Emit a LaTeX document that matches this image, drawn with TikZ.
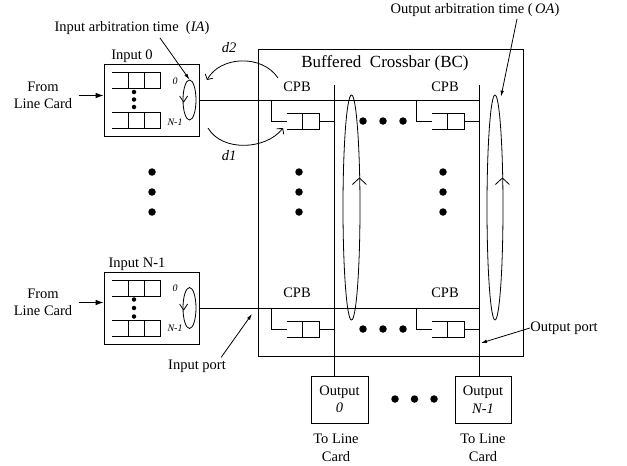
\documentclass[tikz,border=0pt]{standalone}
\usepackage{fontspec}
\setmainfont{Liberation Serif}
\usetikzlibrary{shapes.geometric,arrows.meta,calc}
\begin{document}
\begin{tikzpicture}[x=1pt,y=-1pt,line width=0.8pt,
  font=\fontsize{14.5}{17.5}\selectfont,
  qbox/.style={draw,inner sep=0pt},
  lbl/.style={inner sep=0pt,align=center},
  qlbl/.style={inner sep=0pt,font=\fontsize{10}{12}\selectfont\itshape},
  bigdot/.style={circle,fill,inner sep=0pt,minimum size=7.5pt},
  smalldot/.style={circle,fill,inner sep=0pt,minimum size=4.5pt},
  arb/.style={draw,ellipse,inner sep=0pt},
  fat/.style={-{Latex[length=8pt,width=5.5pt]}},
  thin/.style={-{Latex[length=6pt,width=3.5pt]}},
  barb/.style={-{Straight Barb[length=4pt,width=9pt]}}]
\useasboundingbox (0,0) rectangle (627,466);

\node[qbox,minimum width=95pt,minimum height=72pt] (in0) at (151.5,100) {};
\node[qbox,minimum width=95pt,minimum height=72pt] (inN) at (151.5,308) {};
\node[lbl] (in0lbl) at (132,56) {Input 0};
\node[lbl] (inNlbl) at (137,264) {Input N-1};

\foreach \q in {72,112,280,320} {
  \draw (112,\q) -- (160,\q) -- (160,\q+16) -- (112,\q+16);
  \draw (128,\q) -- (128,\q+16);
  \draw (144,\q) -- (144,\q+16);
}
\node[smalldot] (s1) at (134,92) {};
\node[smalldot] (s2) at (134,99.5) {};
\node[smalldot] (s3) at (134,107) {};
\node[smalldot] (s4) at (134,299.5) {};
\node[smalldot] (s5) at (134,308) {};
\node[smalldot] (s6) at (134,316.5) {};

\node[arb,minimum width=13pt,minimum height=40pt] (ia0) at (189.5,100) {};
\node[arb,minimum width=13pt,minimum height=41pt] (iaN) at (189.5,308) {};
\draw ($(ia0.west)+(-3,-4)$) -- ($(ia0.west)+(1,2)$) -- ($(ia0.west)+(5,-4)$);
\draw ($(iaN.west)+(-3,-4)$) -- ($(iaN.west)+(1,2)$) -- ($(iaN.west)+(5,-4)$);
\node[qlbl] (z0) at (175,81) {0};
\node[qlbl] (n0) at (175,122) {N-1};
\node[qlbl] (z1) at (175,288) {0};
\node[qlbl] (n1) at (175,328) {N-1};

\node[lbl] (flc0) at (43,95.5) {From\\Line Card};
\node[lbl] (flcN) at (43,302.5) {From\\Line Card};
\draw[fat] (flc0.east) ++(6,0) -- (in0.west |- flc0.east);
\draw[fat] (flcN.east) ++(6,0) -- (inN.west |- flcN.east);

\node[lbl] (ialbl) at (132,28) {Input arbitration time~ (\textit{IA})};
\draw[thin] ($(ialbl.south)+(28,3)$) -- (ia0.north);

\node[qbox,minimum width=265pt,minimum height=307pt] (bc) at (390.5,202.5) {};
\node[lbl,font=\fontsize{17}{20}\selectfont] (bclbl) at (385,63) {Buffered~ Crossbar (BC)};

\node[qbox,minimum width=57pt,minimum height=47pt,align=center] (out0) at (339.5,399.5) {Output\\\textit{0}};
\node[qbox,minimum width=56pt,minimum height=47pt,align=center] (outN) at (483,399.5) {Output\\\textit{N-1}};
\coordinate (col0) at (334,85);
\coordinate (col1) at (479,85);
\draw (col0) -- (col0 |- out0.north);
\draw (col1) -- (col1 |- outN.north);
\draw (in0.east) -- (in0.east -| col1);
\draw (inN.east) -- (inN.east -| col1);

\foreach \c in {334,479} {
  \foreach \r in {100,308} {
    \draw (\c-63,\r) -- (\c-63,\r+21) -- (\c-47,\r+21);
    \draw (\c-47,\r+13) -- (\c-15,\r+13) -- (\c-15,\r+29) -- (\c-47,\r+29);
    \draw (\c-32,\r+13) -- (\c-32,\r+29);
    \draw (\c-15,\r+21) -- (\c,\r+21);
  }
}
\node[lbl] (cpb1) at (297,87) {CPB};
\node[lbl] (cpb2) at (445,87) {CPB};
\node[lbl] (cpb3) at (297,293) {CPB};
\node[lbl] (cpb4) at (445,293) {CPB};

\node[arb,minimum width=17pt,minimum height=225pt] (oa0) at (351.5,207.5) {};
\node[arb,minimum width=16pt,minimum height=225pt] (oa1) at (495,207.5) {};
\draw ($(oa0.east)+(-8,-23)$) -- ($(oa0.east)+(-1,-29.5)$) -- ($(oa0.east)+(6,-23)$);
\draw ($(oa1.east)+(-8,-23)$) -- ($(oa1.east)+(-1,-29.5)$) -- ($(oa1.east)+(6,-23)$);
\node[lbl] (oalbl) at (475,10) {Output arbitration time (\,\textit{OA})};
\draw[thin] ($(oalbl.south)+(42,2)$) -- ($(oa1.north)+(6,2)$);

\node[lbl] (d2) at (229,48) {\textit{d2}};
\node[lbl] (d1) at (229,156) {\textit{d1}};
\draw[barb] (278,78) .. controls (262,54) and (220,56) .. (207,80);
\draw[barb] (208,128) .. controls (222,152) and (266,150) .. (283,128);

\foreach \y [count=\i] in {172,192,212} {
  \node[bigdot] (la\i) at (152,\y) {};
  \node[bigdot] (ma\i) at (299,\y) {};
  \node[bigdot] (ra\i) at (443,\y) {};
}
\foreach \x [count=\i] in {363,383,403} {
  \node[bigdot] (ta\i) at (\x,121) {};
  \node[bigdot] (ba\i) at (\x,329) {};
}
\foreach \x [count=\i] in {395,414.5,434} {
  \node[bigdot] (oo\i) at (\x,399) {};
}

\node[lbl] (iplbl) at (197,366) {Input port};
\coordinate (ipt) at (252,314);
\draw[thin] ($(iplbl.north east)+(-5,-2)$) -- (ipt);
\node[lbl] (oplbl) at (564,328) {Output port};
\coordinate (opt) at (481,343);
\draw[thin] (oplbl.west) -- (opt);

\node[lbl] (tlc0) at (336,448) {To Line\\Card};
\node[lbl] (tlcN) at (483,448) {To Line\\Card};
\end{tikzpicture}
\end{document}
